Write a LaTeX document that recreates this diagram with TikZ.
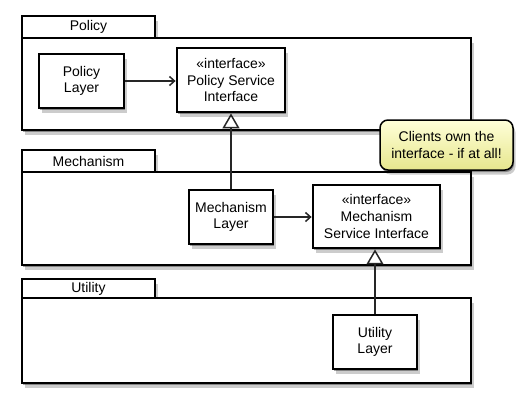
\documentclass[tikz,border=0pt]{standalone}
\usepackage{fontspec}
\setmainfont{Liberation Sans}
\usetikzlibrary{arrows.meta,shadows}
\begin{document}
\begin{tikzpicture}[x=1pt,y=-1pt,
  font=\fontsize{14pt}{16.7pt}\selectfont,
  softshadow/.style={drop shadow={shadow xshift=1pt,shadow yshift=-2pt,opacity=0.35,fill=black},
                     drop shadow={shadow xshift=2.5pt,shadow yshift=-4.5pt,opacity=0.2,fill=black}},
  pkg/.style={draw=black,line width=2.8pt,fill=white,softshadow},
  tab/.style={draw=black,line width=2.8pt,fill=white,softshadow,inner sep=0pt},
  cls/.style={draw=black,line width=2.8pt,fill=white,softshadow,align=center,inner sep=2pt},
  conn/.style={line width=1.5pt,draw=black!85},
  assoc/.style={conn,-{Straight Barb[length=5pt,width=9pt,line width=1.5pt]}},
  realize/.style={conn,-{Triangle[open,length=15pt,width=17pt,line width=1.5pt]}},
  note/.style={draw=black,line width=1.5pt,rounded corners=8pt,top color=yellow!15,bottom color=yellow!45!olive!35,
               softshadow,align=center}
]
\useasboundingbox (0,0) rectangle (525,402);

% Policy package
\path[tab] (22,16) rectangle (155,38);
\node (ptab) at (88.5,27) {Policy};
\path[pkg] (22,38) rectangle (471,130);
% Mechanism package
\path[tab] (22,150) rectangle (155,172);
\node (mtab) at (88.5,161) {Mechanism};
\path[pkg] (22,172) rectangle (471,265);
% Utility package
\path[tab] (22,279) rectangle (155,298);
\node (utab) at (88.5,288.5) {Utility};
\path[pkg] (22,298) rectangle (471,383);

% Classes
\node[cls,minimum width=85pt,minimum height=54pt] (pl) at (81.5,81) {Policy\\Layer};
\node[cls,minimum width=108pt,minimum height=64pt] (psi) at (231,80) {«interface»\\Policy Service\\Interface};
\node[cls,minimum width=84pt,minimum height=54pt] (ml) at (231,217) {Mechanism\\Layer};
\node[cls,minimum width=127pt,minimum height=63pt] (msi) at (376.5,216.5) {«interface»\\Mechanism\\Service Interface};
\node[cls,minimum width=84pt,minimum height=54pt] (ul) at (375,342) {Utility\\Layer};

% Connectors
\draw[assoc] (pl.east) -- (pl.east -| psi.west);
\draw[assoc] (ml.east) -- (ml.east -| msi.west);
\draw[realize] (ml.north) -- (ml.north |- psi.south);
\draw[realize] (ul.north) -- (ul.north |- msi.south);

% Note
\node[note,minimum width=133pt,minimum height=50pt] (nt) at (446.5,145) {Clients own the\\interface - if at all!};
\end{tikzpicture}
\end{document}
